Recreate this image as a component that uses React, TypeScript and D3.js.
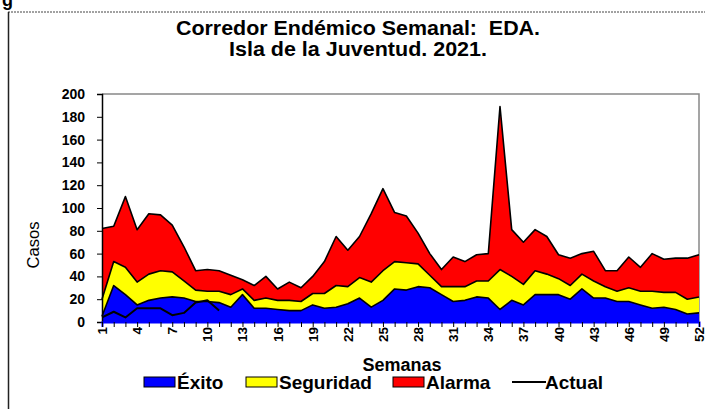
import React, { useEffect, useRef } from "react";
import * as d3 from "d3";

const weeks = d3.range(1, 53);
const alarma = [82, 84, 110, 81, 95, 94, 85, 66, 45, 46, 45, 41, 37, 32, 40, 29, 35, 30, 40, 53, 75, 63, 75, 95, 117, 96, 93, 78, 60, 46, 57, 53, 59, 60, 189, 81, 70, 81, 75, 59, 56, 60, 62, 45, 45, 57, 48, 60, 55, 56, 56, 59];
const seguridad = [20, 53, 48, 35, 42, 45, 44, 36, 28, 27, 27, 24, 29, 19, 21, 19, 19, 18, 25, 25, 32, 31, 39, 35, 45, 53, 52, 51, 41, 31, 31, 31, 36, 36, 46, 40, 33, 45, 42, 38, 32, 42, 36, 31, 27, 30, 27, 27, 26, 26, 20, 22];
const exito = [5, 32, 24, 15, 19, 21, 22, 21, 18, 18, 17, 13, 24, 12, 12, 11, 10, 10, 15, 12, 13, 16, 21, 13, 19, 29, 28, 31, 30, 24, 18, 19, 22, 21, 11, 19, 15, 24, 24, 24, 20, 29, 21, 21, 18, 18, 15, 12, 13, 11, 7, 8];
const actual = [4, 9, 4, 12, 12, 12, 6, 8, 17, 19, 10];
const yTicks = [0, 20, 40, 60, 80, 100, 120, 140, 160, 180, 200];
const xLabels = weeks.filter(w => (w - 1) % 3 === 0);

const legendItems = [
  { label: "Éxito", color: "#0000ff", type: "box" },
  { label: "Seguridad", color: "#ffff00", type: "box" },
  { label: "Alarma", color: "#ff0000", type: "box" },
  { label: "Actual", color: "#000000", type: "line" },
];

const App: React.FC = () => {
  const svgRef = useRef<SVGSVGElement | null>(null);

  useEffect(() => {
    if (!svgRef.current) return;
    const svg = d3.select(svgRef.current);
    svg.selectAll("*").remove();

    const font = "'Liberation Sans', Arial, sans-serif";
    const margin = { top: 94, left: 102, right: 6, bottom: 87 };
    const width = 705, height = 409;

    const x = d3.scaleLinear().domain([1, 52]).range([margin.left, width - margin.right]);
    const y = d3.scaleLinear().domain([0, 200]).range([height - margin.bottom, margin.top]);

    // frame
    svg.append("line").attr("x1", 8).attr("x2", 705).attr("y1", 12).attr("y2", 12)
      .attr("stroke", "#444").attr("stroke-width", 1).attr("stroke-dasharray", "2,1");
    svg.append("line").attr("x1", 8.5).attr("x2", 8.5).attr("y1", 12).attr("y2", 409)
      .attr("stroke", "#222").attr("stroke-width", 1.5);
    svg.append("text").attr("x", 2).attr("y", 6).text("g")
      .style("font-family", font).style("font-weight", "bold").style("font-size", "18px");

    // title
    const title = svg.append("text").attr("text-anchor", "middle")
      .style("font-family", font).style("font-weight", "bold").style("font-size", "20px");
    title.append("tspan").attr("x", 358).attr("y", 35)
      .attr("textLength", 364).attr("lengthAdjust", "spacingAndGlyphs")
      .text("Corredor Endémico Semanal:\u00a0 EDA.");
    title.append("tspan").attr("x", 358).attr("y", 56)
      .attr("textLength", 258).attr("lengthAdjust", "spacingAndGlyphs")
      .text("Isla de la Juventud. 2021.");

    // plot border
    svg.append("path")
      .attr("d", `M${x(1)},${y(200)}H${x(52)}V${y(0)}`)
      .attr("fill", "none").attr("stroke", "#888").attr("stroke-width", 1.5);

    const series = [
      { values: alarma, color: "#ff0000" },
      { values: seguridad, color: "#ffff00" },
      { values: exito, color: "#0000ff" },
    ];

    const area = d3.area<number>()
      .x((_, i) => x(weeks[i]))
      .y0(y(0))
      .y1(d => y(d));
    const line = d3.line<number>()
      .x((_, i) => x(weeks[i]))
      .y(d => y(d));

    series.forEach(s => {
      svg.append("path").attr("d", area(s.values)).attr("fill", s.color);
      svg.append("path").attr("d", line(s.values)).attr("fill", "none")
        .attr("stroke", "#000").attr("stroke-width", 1.6).attr("stroke-linejoin", "round");
    });

    svg.append("path").attr("d", line(actual)).attr("fill", "none")
      .attr("stroke", "#000").attr("stroke-width", 2).attr("stroke-linejoin", "round");

    // y axis
    const yAxis = svg.append("g").attr("transform", `translate(${x(1)},0)`)
      .call(d3.axisLeft(y).tickValues(yTicks).tickSize(5).tickPadding(12));
    yAxis.select(".domain").attr("stroke", "#000").attr("stroke-width", 1.5);
    yAxis.selectAll("text").style("font-family", font).style("font-weight", "bold")
      .style("font-size", "14px").attr("fill", "#000");

    // x axis
    const xAxis = svg.append("g").attr("transform", `translate(0,${y(0)})`)
      .call(d3.axisBottom(x).tickValues(weeks).tickSize(5).tickFormat(() => ""));
    xAxis.select(".domain").attr("stroke", "#0000ff").attr("stroke-width", 2);
    xAxis.selectAll(".tick line").attr("stroke", "#000").attr("stroke-width", 1);

    svg.append("g").selectAll("text").data(xLabels).enter().append("text")
      .attr("transform", d => `translate(${x(d) + 5},${y(0) + 5}) rotate(-90)`)
      .attr("text-anchor", "end")
      .style("font-family", font).style("font-weight", "bold").style("font-size", "13.5px")
      .text(d => String(d));

    svg.append("text").attr("x", 402).attr("y", 371).attr("text-anchor", "middle")
      .style("font-family", font).style("font-weight", "bold").style("font-size", "18px")
      .text("Semanas");

    svg.append("text").attr("transform", `translate(39,245) rotate(-90)`)
      .attr("text-anchor", "middle")
      .style("font-family", font).style("font-size", "16.5px")
      .text("Casos");

    // legend
    const lx = [144, 246, 393, 512];
    const lg = svg.append("g");
    legendItems.forEach((item, i) => {
      const g = lg.append("g").attr("transform", `translate(${lx[i]},382)`);
      if (item.type === "box") {
        g.append("rect").attr("x", 0).attr("y", -5).attr("width", 31).attr("height", 10)
          .attr("fill", item.color).attr("stroke", "#000").attr("stroke-width", 1);
      } else {
        g.append("line").attr("x1", 0).attr("x2", 34).attr("y1", 0).attr("y2", 0)
          .attr("stroke", "#000").attr("stroke-width", 2);
      }
      g.append("text").attr("x", 33).attr("y", 7)
        .style("font-family", font).style("font-weight", "bold").style("font-size", "19px")
        .text(item.label);
    });
  }, []);

  return <svg ref={svgRef} width={705} height={409} style={{ position: "absolute", left: 0, top: 0, background: "#fff" }} />;
};

export default App;
